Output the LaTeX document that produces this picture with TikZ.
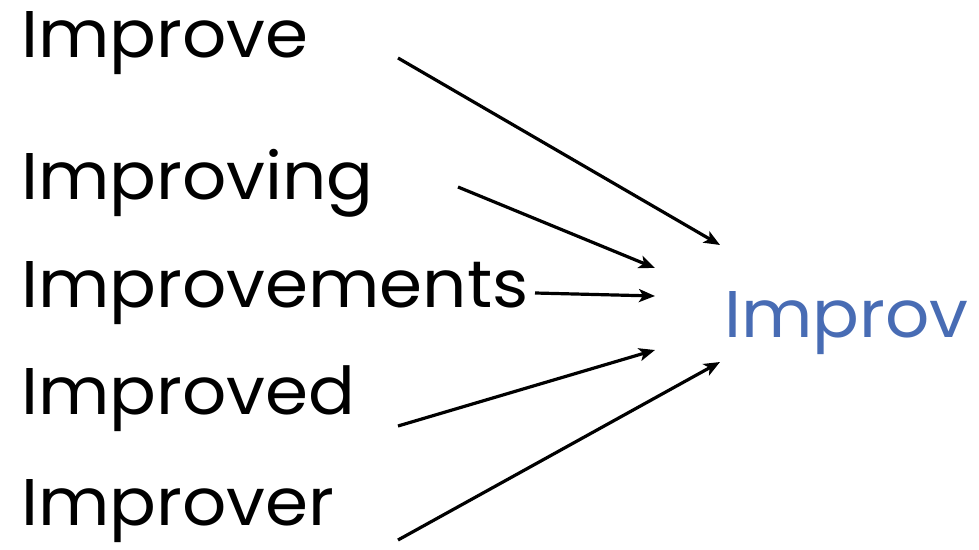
\documentclass[tikz,border=0pt]{standalone}
\usepackage{fontspec}
\setmainfont{Poppins}[FakeStretch=1.05]
\usepackage{xcolor}
\usetikzlibrary{arrows.meta}
\definecolor{stemblue}{RGB}{72,108,180}
\tikzset{
  word/.style={anchor=base west,inner sep=0pt,font=\fontsize{66}{72}\selectfont},
  link/.style={-{Stealth[length=16pt,width=13pt,inset=4pt]},line width=3.2pt}
}
\begin{document}
\begin{tikzpicture}[x=1pt,y=-1pt]
\useasboundingbox (0,0) rectangle (979,549);
\node[word] (improve) at (21,57) {Improve};
\node[word] (improving) at (21,199) {Improving};
\node[word] (improvements) at (21,307) {Improvements};
\node[word] (improved) at (21,414) {Improved};
\node[word] (improver) at (21,525) {Improver};
\node[word,text=stemblue] (stem) at (724,337) {Improv};
% arrow ends
\coordinate (s1) at (398,58);
\coordinate (s2) at (458,187);
\coordinate (s3) at (535,293);
\coordinate (s4) at (398,426);
\coordinate (s5) at (398,540);
\coordinate (e1) at (720,245);
\coordinate (e2) at (655,268);
\coordinate (e3) at (655,296);
\coordinate (e4) at (655,350);
\coordinate (e5) at (720,362);
\foreach \i in {1,...,5}
  \draw[link] (s\i) -- (e\i);
\end{tikzpicture}
\end{document}
